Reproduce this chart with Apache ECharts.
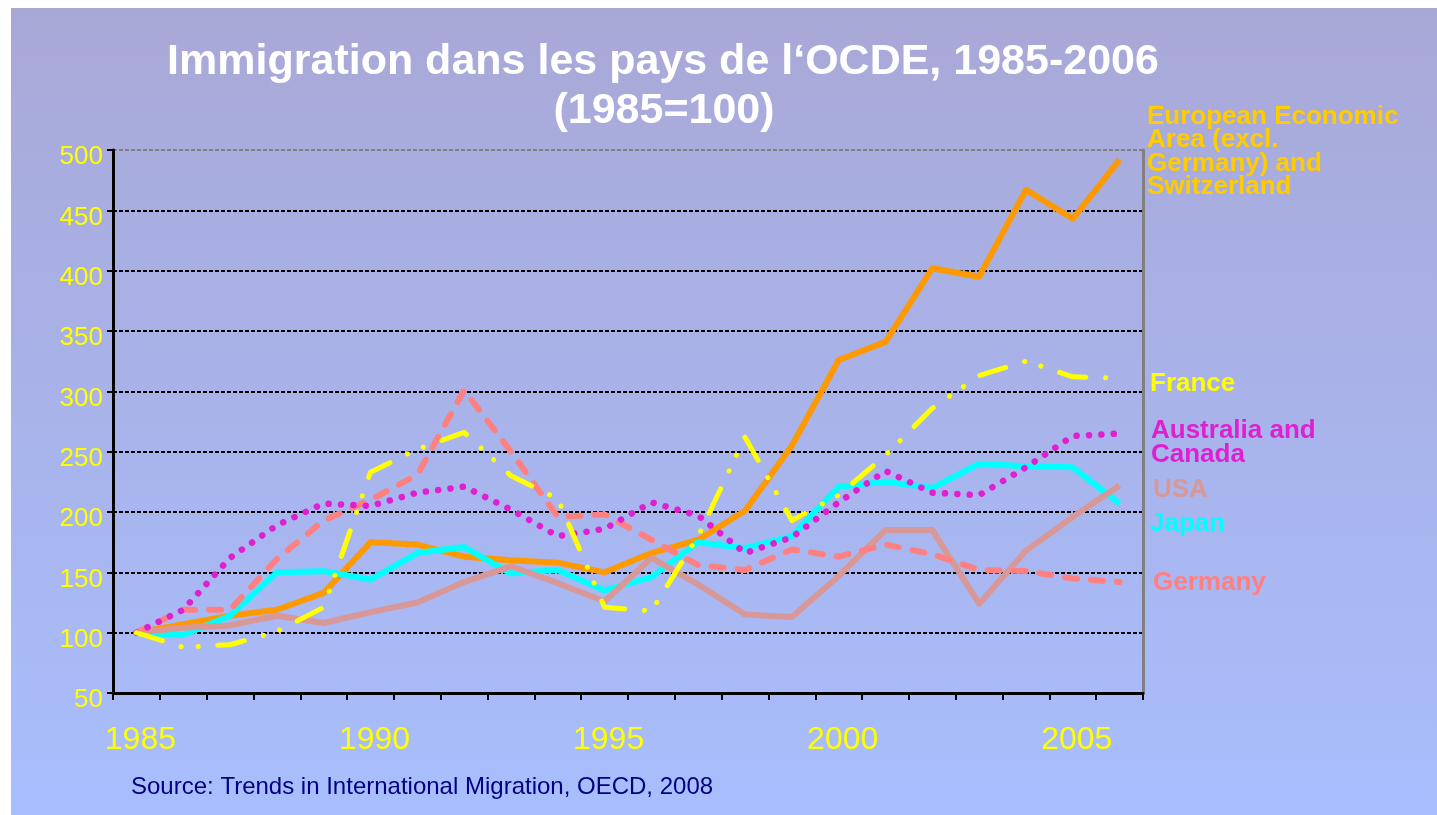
<!DOCTYPE html>
<html>
<head>
<meta charset="utf-8">
<title>Immigration OCDE</title>
<script src="https://cdn.jsdelivr.net/npm/echarts@6/dist/echarts.min.js"></script>
<style>
  html, body { margin: 0; padding: 0; background: #fff; }
  #chart { width: 1437px; height: 815px; }
</style>
</head>
<body>
<div id="chart"></div>
<script>
// years on the x axis
var years = ['1985','1986','1987','1988','1989','1990','1991','1992','1993','1994','1995',
             '1996','1997','1998','1999','2000','2001','2002','2003','2004','2005','2006'];

// index values, 1985 = 100
var eea       = [100, 107, 114, 119, 133, 175, 173, 163, 160, 158, 150, 166, 177, 201, 255, 326, 341, 402, 395, 467, 443, 492];
var france    = [100,  88,  90, 101, 121, 233, 252, 266, 230, 211, 121, 118, 180, 262, 193, 214, 247, 286, 313, 325, 312, 311];
var australia = [100, 119, 162, 189, 207, 205, 216, 221, 202, 180, 186, 208, 197, 166, 179, 208, 234, 216, 214, 237, 263, 265];
var usa       = [100, 104, 106, 114, 108, 117, 125, 142, 155, 141, 126, 162, 140, 115, 113, 147, 185, 185, 124, 168, 196, 222];
var japan     = [100,  98, 114, 150, 151, 144, 166, 171, 149, 152, 135, 146, 175, 170, 180, 221, 225, 220, 240, 238, 237, 207];
var germany   = [100, 119, 119, 161, 193, 210, 231, 301, 250, 196, 198, 177, 156, 152, 169, 163, 173, 165, 152, 151, 145, 142];

var yTicks = { min: 50, max: 500, step: 50 };

var FONT = '"Liberation Sans", Arial, sans-serif';

var chart = echarts.init(document.getElementById('chart'));

// grid lines: black dashes, top one grey (plot border)
var gridColors = [];
for (var v = yTicks.min; v <= yTicks.max; v += yTicks.step) {
  gridColors.push(v === yTicks.max ? '#808080' : '#000000');
}

function sideLabel(x, y, text, color, lh) {
  return {
    type: 'text', x: x, y: y, silent: true,
    style: {
      text: text, fill: color, font: 'bold 26px ' + FONT,
      lineHeight: lh || 24, verticalAlign: 'top', align: 'left'
    }
  };
}

var option = {
  animation: false,
  backgroundColor: new echarts.graphic.LinearGradient(0, 0, 0, 1, [
    { offset: 0, color: '#A8A8D6' },
    { offset: 1, color: '#A8BEFE' }
  ]),
  graphic: [
    // white page margins
    { type: 'rect', shape: { x: 0, y: 0, width: 11, height: 815 }, style: { fill: '#fff' }, silent: true },
    { type: 'rect', shape: { x: 0, y: 0, width: 1437, height: 8 }, style: { fill: '#fff' }, silent: true },
    // title
    { type: 'text', x: 663, y: 62, silent: true,
      style: { text: 'Immigration dans les pays de l\u2018OCDE, 1985-2006', fill: '#fff',
               font: 'bold 43px ' + FONT, align: 'center', verticalAlign: 'middle' } },
    { type: 'text', x: 664, y: 111, silent: true,
      style: { text: '(1985=100)', fill: '#fff',
               font: 'bold 43px ' + FONT, align: 'center', verticalAlign: 'middle' } },
    // series labels on the right
    sideLabel(1147, 105, 'European Economic\nArea (excl.\nGermany) and\nSwitzerland', '#FFCC00', 23.5),
    sideLabel(1150, 372, 'France', '#FFFF00'),
    sideLabel(1151, 419, 'Australia and\nCanada', '#E020D0'),
    sideLabel(1153, 478, 'USA', '#D89898'),
    sideLabel(1150, 512, 'Japan', '#00FFFF'),
    sideLabel(1153, 571, 'Germany', '#FF8080'),
    // source
    { type: 'text', x: 131, y: 787, silent: true,
      style: { text: 'Source: Trends in International Migration, OECD, 2008', fill: '#000080',
               font: '24px ' + FONT, verticalAlign: 'middle', align: 'left' } }
  ],
  grid: { left: 113, right: 294, top: 150, bottom: 122, containLabel: false },
  xAxis: {
    type: 'category',
    data: years,
    boundaryGap: true,
    axisLine: { lineStyle: { color: '#000', width: 3 } },
    axisTick: { show: true, interval: 0, length: 7, lineStyle: { color: '#000', width: 2 } },
    axisLabel: {
      interval: 4, color: '#FFFF00', fontSize: 32, fontFamily: FONT,
      margin: 47, verticalAlign: 'middle', padding: [0, 0, 0, 8]
    },
    splitLine: { show: false }
  },
  yAxis: [{
    type: 'value',
    min: yTicks.min, max: yTicks.max, interval: yTicks.step,
    axisLine: { show: true, lineStyle: { color: '#000', width: 3 } },
    axisTick: { show: true, length: 6, lineStyle: { color: '#000', width: 2 } },
    axisLabel: {
      color: '#FFFF00', fontSize: 26, fontFamily: FONT, margin: 10,
      verticalAlign: 'top', lineHeight: 14
    },
    splitLine: { show: true, lineStyle: { color: gridColors, width: 2, type: [4, 2] } }
  }, {
    type: 'value', position: 'right',
    min: yTicks.min, max: yTicks.max, interval: yTicks.step,
    axisLine: { show: true, lineStyle: { color: '#808080', width: 3 } },
    axisTick: { show: false }, axisLabel: { show: false }, splitLine: { show: false }
  }],
  series: [
    { name: 'European Economic Area', type: 'line', data: eea, symbol: 'none',
      lineStyle: { color: '#FF9900', width: 6, join: 'round' } },
    { name: 'Japan', type: 'line', data: japan, symbol: 'none',
      lineStyle: { color: '#00FFFF', width: 6, join: 'round' } },
    { name: 'USA', type: 'line', data: usa, symbol: 'none',
      lineStyle: { color: '#D89898', width: 6, join: 'round' } },
    { name: 'Germany', type: 'line', data: germany, symbol: 'none',
      lineStyle: { color: '#FF8080', width: 6, type: [12, 14], cap: 'round', join: 'round' } },
    { name: 'Australia and Canada', type: 'line', data: australia, symbol: 'none',
      lineStyle: { color: '#E020D0', width: 6.5, type: [0.1, 12.3], cap: 'round', join: 'round' } },
    { name: 'France', type: 'line', data: france, symbol: 'none',
      lineStyle: { color: '#FFFF00', width: 5, type: [27, 19.8, 0.1, 17, 0.1, 19.7], cap: 'round', join: 'round' } }
  ]
};

chart.setOption(option);
</script>
</body>
</html>
